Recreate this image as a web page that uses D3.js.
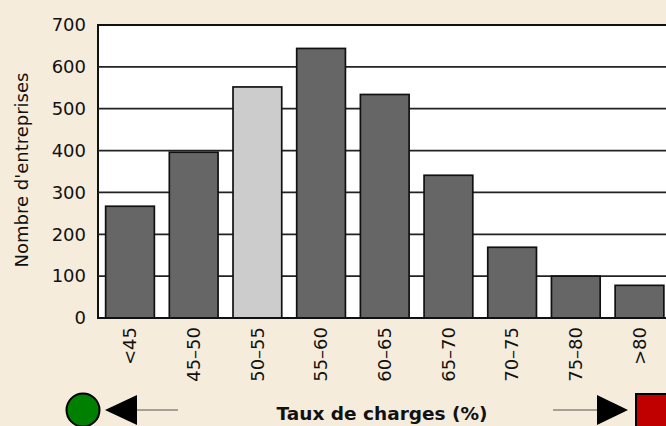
<!DOCTYPE html>
<html><head><meta charset="utf-8">
<script src="https://cdn.jsdelivr.net/npm/d3@7"></script>
<style>
html,body{margin:0;padding:0;background:#f5ecdc;}
svg{display:block;}
text{font-family:"DejaVu Sans",sans-serif;fill:#111;}
</style></head>
<body>
<svg id="chart" width="666" height="426"></svg>
<script>
const categories = ["<45","45–50","50–55","55–60","60–65","65–70","70–75","75–80",">80"];
const counts = [267, 396, 552, 644, 534, 341, 169, 100, 78];
const highlighted = ["50–55"];
const yTicks = [0,100,200,300,400,500,600,700];
const xTitle = "Taux de charges (%)";
const yTitle = "Nombre d'entreprises";

(function(){
const svg = d3.select("#chart");
const W = 666, H = 426;
svg.append("rect").attr("width",W).attr("height",H).attr("fill","#f5ecdc");

const pL = 98, pR = 671.5, pT = 25, pB = 318;
const x = d3.scaleBand().domain(categories).range([pL,pR]).paddingInner(0.235).paddingOuter(0.12);
const y = d3.scaleLinear().domain([0,700]).range([pB,pT]);

// plot background
svg.append("rect").attr("x",pL).attr("y",pT).attr("width",700).attr("height",pB-pT)
  .attr("fill","#fff").attr("stroke","#111").attr("stroke-width",2);

// gridlines
svg.append("g").selectAll("line").data(yTicks.filter(d=>d>0 && d<700)).join("line")
  .attr("x1",pL).attr("x2",W+10).attr("y1",d=>y(d)).attr("y2",d=>y(d))
  .attr("stroke","#222").attr("stroke-width",1.7);

// bars
svg.append("g").selectAll("rect").data(categories).join("rect")
  .attr("x",d=>x(d)).attr("width",x.bandwidth())
  .attr("y",(d,i)=>y(counts[i])).attr("height",(d,i)=>pB-y(counts[i]))
  .attr("fill",d=>highlighted.includes(d)?"#cccccc":"#666666")
  .attr("stroke","#111").attr("stroke-width",1.7);

// baseline
svg.append("line").attr("x1",pL).attr("x2",W+10).attr("y1",pB).attr("y2",pB)
  .attr("stroke","#111").attr("stroke-width",2);

// y axis labels
const yAxis = d3.axisLeft(y).tickValues(yTicks).tickSize(0).tickPadding(12);
const gy = svg.append("g").attr("transform",`translate(${pL},0)`).call(yAxis);
gy.select(".domain").remove();
gy.selectAll("text").attr("font-size",18).attr("font-family","DejaVu Sans, sans-serif").attr("fill","#111");

// x axis labels
const xAxis = d3.axisBottom(x).tickSize(0).tickPadding(0);
const gx = svg.append("g").attr("transform",`translate(0,${pB})`).call(xAxis);
gx.select(".domain").remove();
gx.selectAll("text").attr("font-size",18).attr("font-family","DejaVu Sans, sans-serif").attr("fill","#111")
  .attr("text-anchor","end").attr("transform","rotate(-90)")
  .attr("x",-9).attr("y",0).attr("dy","0.35em");

// titles
svg.append("text").attr("x",382).attr("y",420).attr("text-anchor","middle")
  .attr("font-size",18.5).attr("font-weight","bold").text(xTitle);
svg.append("text").attr("transform","translate(28,170) rotate(-90)").attr("text-anchor","middle")
  .attr("font-size",18).text(yTitle);

// left indicator
svg.append("line").attr("x1",137).attr("x2",178).attr("y1",410).attr("y2",410).attr("stroke","#555").attr("stroke-width",1);
svg.append("polygon").attr("points","105,410 137,395 137,425").attr("fill","#000");
svg.append("circle").attr("cx",83).attr("cy",410).attr("r",16.5).attr("fill","#008000").attr("stroke","#000").attr("stroke-width",2);

// right indicator
svg.append("line").attr("x1",553).attr("x2",597).attr("y1",410).attr("y2",410).attr("stroke","#555").attr("stroke-width",1);
svg.append("polygon").attr("points","628,410 597,395 597,425").attr("fill","#000");
svg.append("rect").attr("x",636).attr("y",394).attr("width",40).attr("height",40).attr("fill","#c00000").attr("stroke","#000").attr("stroke-width",2);
})();
</script>
</body></html>
